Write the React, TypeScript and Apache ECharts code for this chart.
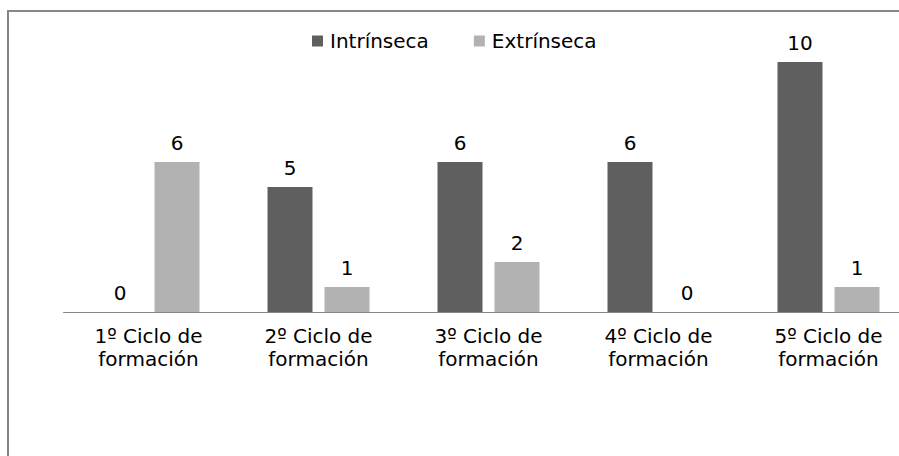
import React, { useEffect, useRef } from "react";
import * as echarts from "echarts";

const categories = [
  "1º Ciclo de\nformación",
  "2º Ciclo de\nformación",
  "3º Ciclo de\nformación",
  "4º Ciclo de\nformación",
  "5º Ciclo de\nformación",
];
const intrinseca = [0, 5, 6, 6, 10];
const extrinseca = [6, 1, 2, 0, 1];
const seriesNames = ["Intrínseca", "Extrínseca"];

const FONT = "DejaVu Sans";

export default function App() {
  const ref = useRef<HTMLDivElement>(null);
  useEffect(() => {
    if (!ref.current) return;
    const chart = echarts.init(ref.current, undefined, { renderer: "svg" });
    const label = {
      show: true,
      position: "top",
      distance: 9,
      color: "#000",
      fontFamily: FONT,
      fontSize: 20,
    };
    chart.setOption({
      animation: false,
      backgroundColor: "#fff",
      graphic: [
        {
          type: "line",
          shape: { x1: 7, y1: 11, x2: 899, y2: 11 },
          style: { stroke: "#868686", lineWidth: 2 },
          silent: true,
        },
        {
          type: "line",
          shape: { x1: 8, y1: 10, x2: 8, y2: 456 },
          style: { stroke: "#868686", lineWidth: 2 },
          silent: true,
        },
      ],
      legend: {
        left: 307,
        top: 26,
        itemWidth: 11,
        itemHeight: 11,
        itemGap: 45,
        icon: "rect",
        textStyle: {
          color: "#000",
          fontFamily: FONT,
          fontSize: 20,
          padding: [0, 0, 0, 2],
        },
        data: seriesNames,
      },
      grid: {
        left: 63.5,
        width: 850,
        top: 12,
        bottom: 144,
        containLabel: false,
        outerBoundsMode: "none",
      },
      xAxis: {
        type: "category",
        data: categories,
        axisLine: { lineStyle: { color: "#868686", width: 1 } },
        axisTick: { show: false },
        axisLabel: {
          interval: 0,
          color: "#000",
          fontFamily: FONT,
          fontSize: 20,
          lineHeight: 23,
          margin: 12,
        },
      },
      yAxis: {
        type: "value",
        min: 0,
        max: 12,
        show: false,
        splitLine: { show: false },
      },
      series: [
        {
          name: seriesNames[0],
          type: "bar",
          data: intrinseca,
          barWidth: 45,
          barGap: "26.7%",
          itemStyle: { color: "#5f5f5f" },
          label,
        },
        {
          name: seriesNames[1],
          type: "bar",
          data: extrinseca,
          barWidth: 45,
          barGap: "26.7%",
          itemStyle: { color: "#b2b2b2" },
          label,
        },
      ],
    });
    return () => chart.dispose();
  }, []);
  return (
    <div
      ref={ref}
      style={{ position: "absolute", left: 0, top: 0, width: 899, height: 456 }}
    />
  );
}
